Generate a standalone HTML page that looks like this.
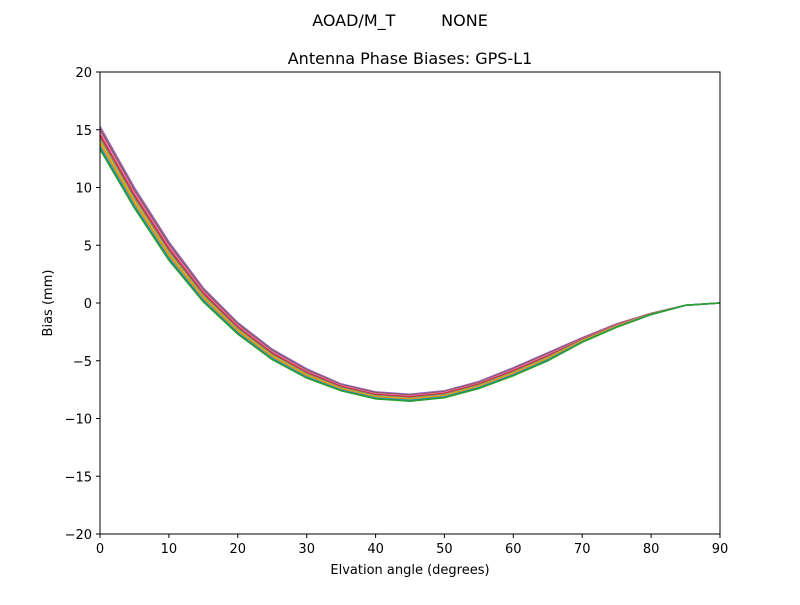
<!DOCTYPE html>
<html><head><meta charset="utf-8"><style>
body{margin:0;background:#fff;}
svg text{font-family:"DejaVu Sans","Liberation Sans",sans-serif;fill:#000;}
</style></head><body>
<svg width="800" height="600" viewBox="0 0 800 600" xmlns="http://www.w3.org/2000/svg">
<rect width="800" height="600" fill="#fff"/>
<text x="400" y="26" font-size="16" text-anchor="middle" style="white-space:pre" xml:space="preserve">AOAD/M_T         NONE</text>
<text x="410" y="64" font-size="16" text-anchor="middle">Antenna Phase Biases: GPS-L1</text>
<defs><clipPath id="c"><rect x="100" y="72" width="620" height="462"/></clipPath></defs>
<g clip-path="url(#c)" fill="none" stroke-width="1.5">
<polyline stroke="#9467bd" points="100,126.3 134.4,187.5 168.9,241.8 203.3,288 237.8,322.6 272.2,349.2 306.7,368.8 341.1,383.9 375.6,391.9 410,394.2 444.4,390.8 478.9,381.5 513.3,367.7 547.8,352.7 582.2,337.7 616.7,323.8 651.1,313.4 685.6,305.3 720,303"/>
<polyline stroke="#8c564b" points="100,129.2 134.4,190.1 168.9,244.2 203.3,289.8 237.8,324 272.2,350.5 306.7,370 341.1,384.8 375.6,392.8 410,395.1 444.4,391.7 478.9,382.4 513.3,368.7 547.8,353.7 582.2,338.3 616.7,324.2 651.1,313.5 685.6,305.3 720,303"/>
<polyline stroke="#e377c2" points="100,132.1 134.4,192.7 168.9,246.5 203.3,291.5 237.8,325.5 272.2,351.8 306.7,371.2 341.1,385.6 375.6,393.7 410,396 444.4,392.5 478.9,383.3 513.3,369.7 547.8,354.7 582.2,338.9 616.7,324.7 651.1,313.7 685.6,305.3 720,303"/>
<polyline stroke="#d62728" points="100,135 134.4,195.2 168.9,248.8 203.3,293.2 237.8,327 272.2,353.1 306.7,372.3 341.1,386.5 375.6,394.5 410,396.8 444.4,393.4 478.9,384.1 513.3,370.8 547.8,355.8 582.2,339.5 616.7,325.2 651.1,313.9 685.6,305.3 720,303"/>
<polyline stroke="#7f7f7f" points="100,137.9 134.4,197.8 168.9,251.1 203.3,294.9 237.8,328.4 272.2,354.4 306.7,373.5 341.1,387.4 375.6,395.4 410,397.7 444.4,394.3 478.9,385 513.3,371.8 547.8,356.8 582.2,340 616.7,325.6 651.1,314 685.6,305.3 720,303"/>
<polyline stroke="#bcbd22" points="100,140.8 134.4,200.4 168.9,253.4 203.3,296.7 237.8,329.9 272.2,355.7 306.7,374.7 341.1,388.3 375.6,396.3 410,398.6 444.4,395.2 478.9,385.9 513.3,372.8 547.8,357.8 582.2,340.6 616.7,326 651.1,314.2 685.6,305.3 720,303"/>
<polyline stroke="#ff7f0e" points="100,143.7 134.4,203 168.9,255.7 203.3,298.4 237.8,331.3 272.2,357 306.7,375.8 341.1,389.1 375.6,397.2 410,399.5 444.4,396 478.9,386.8 513.3,373.8 547.8,358.8 582.2,341.2 616.7,326.5 651.1,314.3 685.6,305.3 720,303"/>
<polyline stroke="#17becf" points="100,146.5 134.4,205.6 168.9,258 203.3,300.1 237.8,332.8 272.2,358.3 306.7,377 341.1,390 375.6,398 410,400.3 444.4,396.9 478.9,387.6 513.3,374.8 547.8,359.8 582.2,341.8 616.7,326.9 651.1,314.5 685.6,305.3 720,303"/>
<polyline stroke="#1f77b4" points="100,148 134.4,206.9 168.9,259.2 203.3,301 237.8,333.5 272.2,359 306.7,377.6 341.1,390.4 375.6,398.5 410,400.8 444.4,397.3 478.9,388 513.3,375.3 547.8,360.3 582.2,342 616.7,327.1 651.1,314.5 685.6,305.3 720,303"/>
<polyline stroke="#2ca02c" points="100,149.4 134.4,208.1 168.9,260.3 203.3,301.8 237.8,334.2 272.2,359.6 306.7,378.1 341.1,390.8 375.6,398.9 410,401.2 444.4,397.7 478.9,388.5 513.3,375.8 547.8,360.8 582.2,342.3 616.7,327.3 651.1,314.6 685.6,305.3 720,303"/>
</g>
<rect x="100" y="72" width="620" height="462" fill="none" stroke="#000" stroke-width="1"/>
<g stroke="#000" stroke-width="1">
<line x1="100" y1="534" x2="100" y2="538"/><line x1="168.9" y1="534" x2="168.9" y2="538"/><line x1="237.8" y1="534" x2="237.8" y2="538"/><line x1="306.7" y1="534" x2="306.7" y2="538"/><line x1="375.6" y1="534" x2="375.6" y2="538"/><line x1="444.4" y1="534" x2="444.4" y2="538"/><line x1="513.3" y1="534" x2="513.3" y2="538"/><line x1="582.2" y1="534" x2="582.2" y2="538"/><line x1="651.1" y1="534" x2="651.1" y2="538"/><line x1="720" y1="534" x2="720" y2="538"/>
<line x1="96" y1="72" x2="100" y2="72"/><line x1="96" y1="129.75" x2="100" y2="129.75"/><line x1="96" y1="187.5" x2="100" y2="187.5"/><line x1="96" y1="245.25" x2="100" y2="245.25"/><line x1="96" y1="303" x2="100" y2="303"/><line x1="96" y1="360.75" x2="100" y2="360.75"/><line x1="96" y1="418.5" x2="100" y2="418.5"/><line x1="96" y1="476.25" x2="100" y2="476.25"/><line x1="96" y1="534" x2="100" y2="534"/>
</g>
<g font-size="13" text-anchor="middle">
<text x="100" y="553">0</text><text x="168.9" y="553">10</text><text x="237.8" y="553">20</text><text x="306.7" y="553">30</text><text x="375.6" y="553">40</text><text x="444.4" y="553">50</text><text x="513.3" y="553">60</text><text x="582.2" y="553">70</text><text x="651.1" y="553">80</text><text x="720" y="553">90</text>
</g>
<g font-size="13" text-anchor="end">
<text x="92" y="77">20</text><text x="92" y="134.75">15</text><text x="92" y="192.5">10</text><text x="92" y="250.25">5</text><text x="92" y="308">0</text><text x="92" y="365.75">−5</text><text x="92" y="423.5">−10</text><text x="92" y="481.25">−15</text><text x="92" y="539">−20</text>
</g>
<text x="410" y="574" font-size="13" text-anchor="middle">Elvation angle (degrees)</text>
<text x="52" y="303" font-size="13" text-anchor="middle" transform="rotate(-90 52 303)">Bias (mm)</text>
</svg>
</body></html>
